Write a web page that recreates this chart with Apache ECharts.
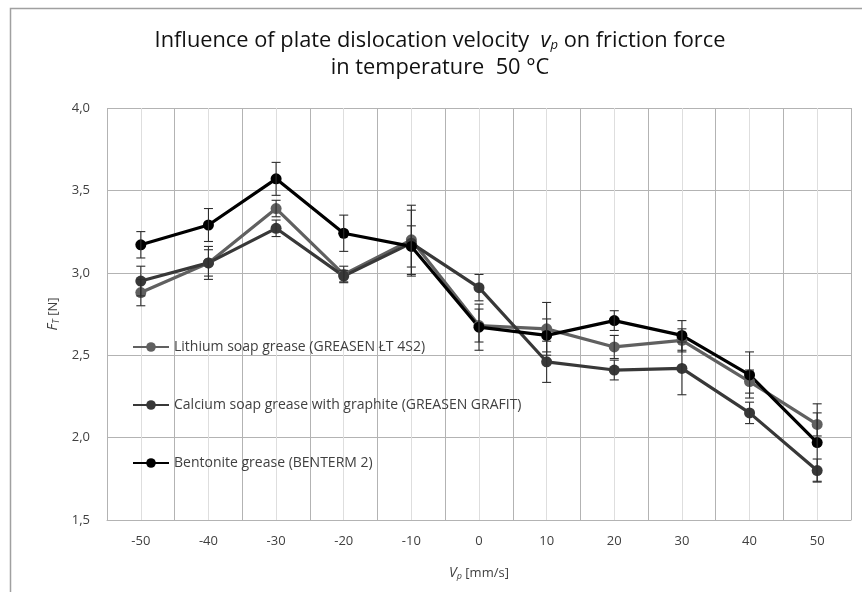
<!DOCTYPE html>
<html>
<head>
<meta charset="utf-8">
<script src="https://cdn.jsdelivr.net/npm/echarts@6/dist/echarts.min.js"></script>
<style>
    html, body { margin: 0; padding: 0; background: #fff; }
    #echartsBox { width: 862px; height: 592px; }
</style>
</head>
<body>
<div id="echartsBox"></div>
<script>
// velocities [mm/s]
const velocities = [-50, -40, -30, -20, -10, 0, 10, 20, 30, 40, 50]
// friction force F_T [N]
const lithium = [2.88, 3.06, 3.39, 2.99, 3.20, 2.68, 2.66, 2.55, 2.59, 2.34, 2.08]
const calcium = [2.95, 3.06, 3.27, 2.98, 3.18, 2.91, 2.46, 2.41, 2.42, 2.15, 1.80]
const bentonite = [3.17, 3.29, 3.57, 3.24, 3.16, 2.67, 2.62, 2.71, 2.62, 2.38, 1.97]
// error bars (+/-)
const lithiumErr = [0.08, 0.08, 0.05, 0.05, 0.21, 0.10, 0.16, 0.07, 0.07, 0.07, 0.07]
const calciumErr = [0.09, 0.10, 0.05, 0.035, 0.20, 0.08, 0.125, 0.06, 0.16, 0.065, 0.07]
const bentoniteErr = [0.08, 0.10, 0.10, 0.11, 0.125, 0.14, 0.10, 0.06, 0.09, 0.14, 0.235]

const seriesNames = [
    'Lithium soap grease (GREASEN ŁT 4S2)',
    'Calcium soap grease with graphite (GREASEN GRAFIT)',
    'Bentonite grease (BENTERM 2)'
]
const seriesColors = ['#606060', '#383838', '#000000']

const font = '"Open Sans", "Noto Sans", sans-serif'

function pairs(values) {
    return velocities.map((v, i) => [v, values[i]])
}
function errPairs(values, errs) {
    return velocities.map((v, i) => [v, values[i], errs[i]])
}

function lineSeries(name, values, color) {
    return {
        name: name,
        type: 'line',
        data: pairs(values),
        symbol: 'circle',
        symbolSize: 11,
        lineStyle: { width: 3.2, color: color },
        itemStyle: { color: color },
        z: 3
    }
}

// error bars: vertical whisker with caps
function errSeries(values, errs) {
    return {
        type: 'custom',
        data: errPairs(values, errs),
        encode: { x: 0, y: 1 },
        z: 4,
        silent: true,
        renderItem: function (params, api) {
            const x = api.value(0), y = api.value(1), e = api.value(2)
            const top = api.coord([x, y + e])
            const bot = api.coord([x, y - e])
            const w = 4.5
            const style = { stroke: '#2e2e2e', lineWidth: 1.1 }
            return {
                type: 'group',
                children: [
                    { type: 'line', shape: { x1: top[0], y1: top[1], x2: bot[0], y2: bot[1] }, style: style },
                    { type: 'line', shape: { x1: top[0] - w, y1: top[1], x2: top[0] + w, y2: top[1] }, style: style },
                    { type: 'line', shape: { x1: bot[0] - w, y1: bot[1], x2: bot[0] + w, y2: bot[1] }, style: style }
                ]
            }
        }
    }
}

const option = {
    backgroundColor: '#fff',
    animation: false,
    textStyle: { fontFamily: font },
    title: {
        left: 435,
        top: 22,
        textAlign: 'center',
        text: 'Influence of plate dislocation velocity  {i|v}{sub|p} on friction force\nin temperature  50 °C',
        textStyle: {
            fontFamily: font,
            fontSize: 21.8,
            fontWeight: 'normal',
            color: '#111',
            lineHeight: 27,
            rich: {
                i: { fontFamily: font, fontSize: 21.8, fontStyle: 'italic', color: '#111' },
                sub: { fontFamily: font, fontSize: 13, fontStyle: 'italic', color: '#111', padding: [10, 0, 0, 0] }
            }
        }
    },
    legend: {
        orient: 'vertical',
        left: 132,
        top: 340,
        padding: 0,
        itemWidth: 36,
        itemHeight: 12,
        itemGap: 44,
        data: seriesNames,
        textStyle: { fontFamily: font, fontSize: 14, color: '#404040' }
    },
    grid: {
        left: 107,
        right: 11,
        top: 108,
        bottom: 72,
        containLabel: false
    },
    xAxis: {
        type: 'value',
        min: -55,
        max: 55,
        interval: 5,
        name: '{i|V}{sub|p} [mm/s]',
        nameLocation: 'middle',
        nameGap: 45,
        nameTextStyle: {
            fontFamily: font,
            fontSize: 13,
            color: '#404040',
            rich: {
                i: { fontFamily: font, fontSize: 14, fontStyle: 'italic', color: '#404040' },
                sub: { fontFamily: font, fontSize: 9, fontStyle: 'italic', color: '#404040', padding: [7, 0, 0, 0] }
            }
        },
        axisLine: { show: true, lineStyle: { color: '#b3b3b3', width: 1 } },
        axisTick: { show: false },
        axisLabel: {
            margin: 15,
            fontFamily: font,
            fontSize: 13,
            color: '#404040',
            formatter: function (v) {
                return v % 10 === 0 ? String(v) : ''
            }
        },
        // major lines between categories, minor lines at the categories
        splitLine: {
            show: true,
            lineStyle: { color: ['#b3b3b3', '#dedede'], width: 1 }
        }
    },
    yAxis: {
        type: 'value',
        min: 1.5,
        max: 4.0,
        interval: 0.5,
        name: '{i|F}{sub|T} [N]',
        nameLocation: 'middle',
        nameGap: 44,
        nameRotate: 90,
        nameTextStyle: {
            fontFamily: font,
            fontSize: 13,
            color: '#404040',
            rich: {
                i: { fontFamily: font, fontSize: 14, fontStyle: 'italic', color: '#404040' },
                sub: { fontFamily: font, fontSize: 9, fontStyle: 'italic', color: '#404040', padding: [7, 0, 0, 0] }
            }
        },
        axisLine: { show: false },
        axisTick: { show: false },
        axisLabel: {
            margin: 17,
            fontFamily: font,
            fontSize: 13,
            color: '#404040',
            formatter: function (v) {
                return v.toFixed(1).replace('.', ',')
            }
        },
        splitLine: { show: true, lineStyle: { color: '#b3b3b3', width: 1 } }
    },
    graphic: [
        {
            type: 'rect',
            left: 8,
            top: 6,
            shape: { width: 900, height: 700 },
            style: { fill: 'none', stroke: '#a0a0a0', lineWidth: 1.5 },
            silent: true
        }
    ],
    series: [
        lineSeries(seriesNames[0], lithium, seriesColors[0]),
        lineSeries(seriesNames[1], calcium, seriesColors[1]),
        lineSeries(seriesNames[2], bentonite, seriesColors[2]),
        errSeries(lithium, lithiumErr),
        errSeries(calcium, calciumErr),
        errSeries(bentonite, bentoniteErr)
    ]
}

const myChart = echarts.init(document.getElementById('echartsBox'), null, { renderer: 'canvas' })
myChart.setOption(option)
</script>
</body>
</html>
